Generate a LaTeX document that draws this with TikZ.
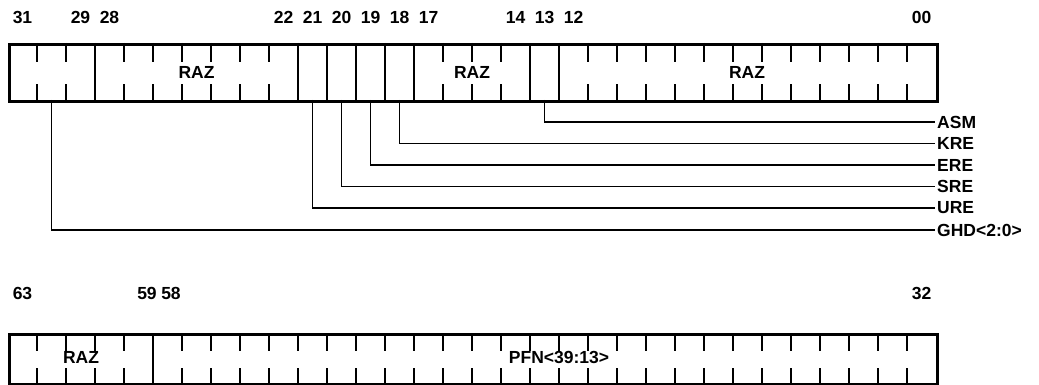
\documentclass[tikz,border=0pt]{standalone}
\usepackage{fontspec}
\setmainfont{Liberation Sans}
\usetikzlibrary{calc}
\begin{document}
\begin{tikzpicture}[x=1pt,y=-1pt,
  regbox/.style={draw,line width=3pt,inner sep=0pt,anchor=north west},
  fieldline/.style={line width=2.8pt},
  tickline/.style={line width=2.3pt},
  sigline/.style={line width=1.8pt},
  txt/.style={inner sep=0pt,font=\fontsize{17.5}{20}\selectfont\bfseries},
  bitnum/.style={txt},
  siglabel/.style={txt,anchor=west}]
\useasboundingbox (0,0) rectangle (1039,385);
% ---------- top register ----------
\node[regbox,minimum width=928pt,minimum height=57pt] (top) at (8,43) {};
\foreach \i in {1,...,31}{
  \pgfmathtruncatemacro{\full}{(\i==3)||(\i==10)||(\i==11)||(\i==12)||(\i==13)||(\i==14)||(\i==18)||(\i==19)}
  \ifnum\full=1
    \draw[fieldline] ($(top.north west)+(29*\i,0)$) -- ($(top.south west)+(29*\i,0)$);
  \else
    \draw[tickline] ($(top.north west)+(29*\i,0)$) -- ++(0,19);
    \draw[tickline] ($(top.south west)+(29*\i,0)$) -- ++(0,-19);
  \fi
}
\node[txt] (razA) at (196.5,72) {RAZ};
\node[txt] (razB) at (472,72) {RAZ};
\node[txt] (razC) at (747,72) {RAZ};
% bit numbers
\node[bitnum] (n31) at (22.5,17) {31};
\node[bitnum] (n29) at (80.5,17) {29};
\node[bitnum] (n28) at (109.5,17) {28};
\node[bitnum] (n22) at (283.5,17) {22};
\node[bitnum] (n21) at (312.5,17) {21};
\node[bitnum] (n20) at (341.5,17) {20};
\node[bitnum] (n19) at (370.5,17) {19};
\node[bitnum] (n18) at (399.5,17) {18};
\node[bitnum] (n17) at (428.5,17) {17};
\node[bitnum] (n14) at (515.5,17) {14};
\node[bitnum] (n13) at (544.5,17) {13};
\node[bitnum] (n12) at (573.5,17) {12};
\node[bitnum] (n00) at (921.5,17) {00};
% signal taps
\coordinate (t13) at (544.5,100);
\coordinate (t18) at (399.5,100);
\coordinate (t19) at (370.5,100);
\coordinate (t20) at (341.5,100);
\coordinate (t21) at (312.5,100);
\coordinate (t30) at (51.5,100);
\node[siglabel] (asm) at (937,122) {ASM};
\node[siglabel] (kre) at (937,143.5) {KRE};
\node[siglabel] (ere) at (937,165) {ERE};
\node[siglabel] (sre) at (937,186.5) {SRE};
\node[siglabel] (ure) at (937,208) {URE};
\node[siglabel] (ghd) at (937,230) {GHD<2:0>};
\draw[sigline] (t13) |- ([xshift=-2pt]asm.west);
\draw[sigline] (t18) |- ([xshift=-2pt]kre.west);
\draw[sigline] (t19) |- ([xshift=-2pt]ere.west);
\draw[sigline] (t20) |- ([xshift=-2pt]sre.west);
\draw[sigline] (t21) |- ([xshift=-2pt]ure.west);
\draw[sigline] (t30) |- ([xshift=-2pt]ghd.west);
% ---------- bottom register ----------
\node[regbox,minimum width=928pt,minimum height=50pt] (bot) at (8,333) {};
\foreach \i in {1,...,31}{
  \ifnum\i=5
    \draw[fieldline] ($(bot.north west)+(29*\i,0)$) -- ($(bot.south west)+(29*\i,0)$);
  \else
    \draw[tickline] ($(bot.north west)+(29*\i,0)$) -- ++(0,18);
    \draw[tickline] ($(bot.south west)+(29*\i,0)$) -- ++(0,-18);
  \fi
}
\node[txt] (razD) at (81,357) {RAZ};
\node[txt] (pfn) at (559,357) {PFN<39:13>};
\node[bitnum] (n63) at (22.5,293) {63};
\node[bitnum] (n59) at (147,293) {59};
\node[bitnum] (n58) at (171,293) {58};
\node[bitnum] (n32) at (921.5,293) {32};
\end{tikzpicture}
\end{document}
